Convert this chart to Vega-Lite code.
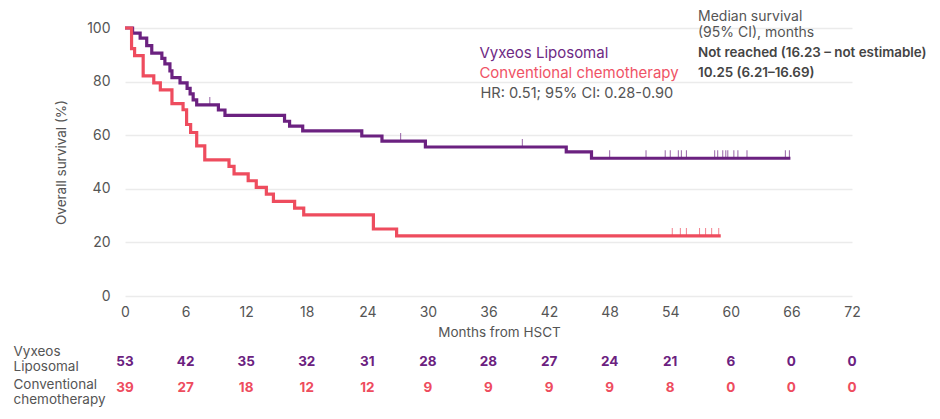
{
  "$schema": "https://vega.github.io/schema/vega-lite/v6.json",
  "background": "white",
  "padding": {"left": 13, "top": 9, "right": 5, "bottom": 5},
  "config": {
    "font": "Inter",
    "view": {"stroke": null},
    "axis": {"labelFont": "Inter", "titleFont": "Inter", "labelColor": "#555555", "titleColor": "#555555", "titleFontWeight": "normal", "domain": false, "ticks": false, "tickSize": 0}
  },
  "datasets": {
    "km": [
      {"group": "Vyxeos Liposomal", "month": 0, "survival": 100, "censored": false},
      {"group": "Vyxeos Liposomal", "month": 0.75, "survival": 98.1, "censored": false},
      {"group": "Vyxeos Liposomal", "month": 1.5, "survival": 96.2, "censored": false},
      {"group": "Vyxeos Liposomal", "month": 2.15, "survival": 93.4, "censored": false},
      {"group": "Vyxeos Liposomal", "month": 2.65, "survival": 90.6, "censored": false},
      {"group": "Vyxeos Liposomal", "month": 3.65, "survival": 88.7, "censored": false},
      {"group": "Vyxeos Liposomal", "month": 3.95, "survival": 86.6, "censored": false},
      {"group": "Vyxeos Liposomal", "month": 4.45, "survival": 84.0, "censored": false},
      {"group": "Vyxeos Liposomal", "month": 4.65, "survival": 81.5, "censored": false},
      {"group": "Vyxeos Liposomal", "month": 5.45, "survival": 79.5, "censored": false},
      {"group": "Vyxeos Liposomal", "month": 6.15, "survival": 77.5, "censored": false},
      {"group": "Vyxeos Liposomal", "month": 6.45, "survival": 75.4, "censored": false},
      {"group": "Vyxeos Liposomal", "month": 6.75, "survival": 73.2, "censored": false},
      {"group": "Vyxeos Liposomal", "month": 7.1, "survival": 71.3, "censored": false},
      {"group": "Vyxeos Liposomal", "month": 8.4, "survival": 71.3, "censored": true},
      {"group": "Vyxeos Liposomal", "month": 9.25, "survival": 69.4, "censored": false},
      {"group": "Vyxeos Liposomal", "month": 9.9, "survival": 67.4, "censored": false},
      {"group": "Vyxeos Liposomal", "month": 15.8, "survival": 65.2, "censored": false},
      {"group": "Vyxeos Liposomal", "month": 16.3, "survival": 63.4, "censored": false},
      {"group": "Vyxeos Liposomal", "month": 17.6, "survival": 61.6, "censored": false},
      {"group": "Vyxeos Liposomal", "month": 23.45, "survival": 59.7, "censored": false},
      {"group": "Vyxeos Liposomal", "month": 25.45, "survival": 57.8, "censored": false},
      {"group": "Vyxeos Liposomal", "month": 27.3, "survival": 57.8, "censored": true},
      {"group": "Vyxeos Liposomal", "month": 29.75, "survival": 55.6, "censored": false},
      {"group": "Vyxeos Liposomal", "month": 39.35, "survival": 55.6, "censored": true},
      {"group": "Vyxeos Liposomal", "month": 43.7, "survival": 53.8, "censored": false},
      {"group": "Vyxeos Liposomal", "month": 46.2, "survival": 51.4, "censored": false},
      {"group": "Vyxeos Liposomal", "month": 48.0, "survival": 51.4, "censored": true},
      {"group": "Vyxeos Liposomal", "month": 51.6, "survival": 51.4, "censored": true},
      {"group": "Vyxeos Liposomal", "month": 53.5, "survival": 51.4, "censored": true},
      {"group": "Vyxeos Liposomal", "month": 54.0, "survival": 51.4, "censored": true},
      {"group": "Vyxeos Liposomal", "month": 54.8, "survival": 51.4, "censored": true},
      {"group": "Vyxeos Liposomal", "month": 55.1, "survival": 51.4, "censored": true},
      {"group": "Vyxeos Liposomal", "month": 55.6, "survival": 51.4, "censored": true},
      {"group": "Vyxeos Liposomal", "month": 58.4, "survival": 51.4, "censored": true},
      {"group": "Vyxeos Liposomal", "month": 58.7, "survival": 51.4, "censored": true},
      {"group": "Vyxeos Liposomal", "month": 59.2, "survival": 51.4, "censored": true},
      {"group": "Vyxeos Liposomal", "month": 59.5, "survival": 51.4, "censored": true},
      {"group": "Vyxeos Liposomal", "month": 59.7, "survival": 51.4, "censored": true},
      {"group": "Vyxeos Liposomal", "month": 60.3, "survival": 51.4, "censored": true},
      {"group": "Vyxeos Liposomal", "month": 60.7, "survival": 51.4, "censored": true},
      {"group": "Vyxeos Liposomal", "month": 61.6, "survival": 51.4, "censored": true},
      {"group": "Vyxeos Liposomal", "month": 65.4, "survival": 51.4, "censored": true},
      {"group": "Vyxeos Liposomal", "month": 65.8, "survival": 51.4, "censored": true},
      {"group": "Vyxeos Liposomal", "month": 65.9, "survival": 51.4, "censored": false},
      {"group": "Conventional chemotherapy", "month": 0, "survival": 100, "censored": false},
      {"group": "Conventional chemotherapy", "month": 0.65, "survival": 92.3, "censored": false},
      {"group": "Conventional chemotherapy", "month": 0.95, "survival": 89.7, "censored": false},
      {"group": "Conventional chemotherapy", "month": 1.8, "survival": 82.1, "censored": false},
      {"group": "Conventional chemotherapy", "month": 2.85, "survival": 79.5, "censored": false},
      {"group": "Conventional chemotherapy", "month": 3.5, "survival": 76.9, "censored": false},
      {"group": "Conventional chemotherapy", "month": 4.65, "survival": 71.8, "censored": false},
      {"group": "Conventional chemotherapy", "month": 5.75, "survival": 69.5, "censored": false},
      {"group": "Conventional chemotherapy", "month": 6.1, "survival": 64.0, "censored": false},
      {"group": "Conventional chemotherapy", "month": 6.5, "survival": 61.0, "censored": false},
      {"group": "Conventional chemotherapy", "month": 7.1, "survival": 56.0, "censored": false},
      {"group": "Conventional chemotherapy", "month": 7.9, "survival": 50.8, "censored": false},
      {"group": "Conventional chemotherapy", "month": 10.3, "survival": 48.4, "censored": false},
      {"group": "Conventional chemotherapy", "month": 10.8, "survival": 45.6, "censored": false},
      {"group": "Conventional chemotherapy", "month": 12.2, "survival": 43.0, "censored": false},
      {"group": "Conventional chemotherapy", "month": 13.0, "survival": 40.5, "censored": false},
      {"group": "Conventional chemotherapy", "month": 14.0, "survival": 38.0, "censored": false},
      {"group": "Conventional chemotherapy", "month": 14.7, "survival": 35.3, "censored": false},
      {"group": "Conventional chemotherapy", "month": 16.8, "survival": 32.8, "censored": false},
      {"group": "Conventional chemotherapy", "month": 17.7, "survival": 30.3, "censored": false},
      {"group": "Conventional chemotherapy", "month": 24.6, "survival": 25.0, "censored": false},
      {"group": "Conventional chemotherapy", "month": 26.9, "survival": 22.4, "censored": false},
      {"group": "Conventional chemotherapy", "month": 54.2, "survival": 22.4, "censored": true},
      {"group": "Conventional chemotherapy", "month": 55.0, "survival": 22.4, "censored": true},
      {"group": "Conventional chemotherapy", "month": 55.6, "survival": 22.4, "censored": true},
      {"group": "Conventional chemotherapy", "month": 56.9, "survival": 22.4, "censored": true},
      {"group": "Conventional chemotherapy", "month": 57.5, "survival": 22.4, "censored": true},
      {"group": "Conventional chemotherapy", "month": 58.1, "survival": 22.4, "censored": true},
      {"group": "Conventional chemotherapy", "month": 58.8, "survival": 22.4, "censored": true},
      {"group": "Conventional chemotherapy", "month": 59.0, "survival": 22.4, "censored": false}
    ],
    "risk": [
      {"group": "Vyxeos Liposomal", "month": 0, "n": 53},
      {"group": "Vyxeos Liposomal", "month": 6, "n": 42},
      {"group": "Vyxeos Liposomal", "month": 12, "n": 35},
      {"group": "Vyxeos Liposomal", "month": 18, "n": 32},
      {"group": "Vyxeos Liposomal", "month": 24, "n": 31},
      {"group": "Vyxeos Liposomal", "month": 30, "n": 28},
      {"group": "Vyxeos Liposomal", "month": 36, "n": 28},
      {"group": "Vyxeos Liposomal", "month": 42, "n": 27},
      {"group": "Vyxeos Liposomal", "month": 48, "n": 24},
      {"group": "Vyxeos Liposomal", "month": 54, "n": 21},
      {"group": "Vyxeos Liposomal", "month": 60, "n": 6},
      {"group": "Vyxeos Liposomal", "month": 66, "n": 0},
      {"group": "Vyxeos Liposomal", "month": 72, "n": 0},
      {"group": "Conventional chemotherapy", "month": 0, "n": 39},
      {"group": "Conventional chemotherapy", "month": 6, "n": 27},
      {"group": "Conventional chemotherapy", "month": 12, "n": 18},
      {"group": "Conventional chemotherapy", "month": 18, "n": 12},
      {"group": "Conventional chemotherapy", "month": 24, "n": 12},
      {"group": "Conventional chemotherapy", "month": 30, "n": 9},
      {"group": "Conventional chemotherapy", "month": 36, "n": 9},
      {"group": "Conventional chemotherapy", "month": 42, "n": 9},
      {"group": "Conventional chemotherapy", "month": 48, "n": 9},
      {"group": "Conventional chemotherapy", "month": 54, "n": 8},
      {"group": "Conventional chemotherapy", "month": 60, "n": 0},
      {"group": "Conventional chemotherapy", "month": 66, "n": 0},
      {"group": "Conventional chemotherapy", "month": 72, "n": 0}
    ]
  },
  "bounds": "flush",
  "spacing": 53,
  "vconcat": [
    {
      "width": 727,
      "height": 268,
      "layer": [
        {
          "data": {"name": "km"},
          "mark": {"type": "line", "interpolate": "step-after", "strokeWidth": 3.2},
          "encoding": {
            "x": {"field": "month", "type": "quantitative", "scale": {"domain": [0, 72], "nice": false},
              "axis": {"values": [0, 6, 12, 18, 24, 30, 36, 42, 48, 54, 60, 66, 72], "title": "Months from HSCT", "grid": false, "labelFlush": false, "labelPadding": 9, "labelFontSize": 14, "titleFontSize": 13.5, "titlePadding": 6, "titleX": 374}},
            "y": {"field": "survival", "type": "quantitative", "scale": {"domain": [0, 100], "nice": false},
              "axis": {"values": [0, 20, 40, 60, 80, 100], "title": "Overall survival (%)", "grid": true, "gridColor": "#ebebeb", "gridWidth": 1.5, "labelPadding": 15, "labelFontSize": 14, "titleFontSize": 13.5, "titlePadding": 18}},
            "color": {"field": "group", "type": "nominal", "scale": {"domain": ["Vyxeos Liposomal", "Conventional chemotherapy"], "range": ["#6b2180", "#ee4c5e"]}, "legend": null}
          }
        },
        {
          "data": {"name": "km"},
          "transform": [{"filter": "datum.censored"}],
          "mark": {"type": "tick", "orient": "vertical", "size": 8, "thickness": 1, "yOffset": -4},
          "encoding": {
            "x": {"field": "month", "type": "quantitative"},
            "y": {"field": "survival", "type": "quantitative"},
            "color": {"field": "group", "type": "nominal", "legend": null}
          }
        },
        {
          "data": {"values": [{"label": "Vyxeos Liposomal"}]},
          "mark": {"type": "text", "align": "left", "baseline": "middle", "fontSize": 15, "color": "#6e2a84"},
          "encoding": {"x": {"datum": 35.1}, "y": {"datum": 90.7}, "text": {"field": "label"}}
        },
        {
          "data": {"values": [{"label": "Conventional chemotherapy"}]},
          "mark": {"type": "text", "align": "left", "baseline": "middle", "fontSize": 15, "color": "#ef5366"},
          "encoding": {"x": {"datum": 35.1}, "y": {"datum": 83.3}, "text": {"field": "label"}}
        },
        {
          "data": {"values": [{"label": "HR: 0.51; 95% CI: 0.28-0.90"}]},
          "mark": {"type": "text", "align": "left", "baseline": "middle", "fontSize": 14.6, "color": "#555555"},
          "encoding": {"x": {"datum": 35.2}, "y": {"datum": 75.4}, "text": {"field": "label"}}
        },
        {
          "data": {"values": [{"label": "Median survival"}]},
          "mark": {"type": "text", "align": "left", "baseline": "middle", "fontSize": 14, "color": "#555555"},
          "encoding": {"x": {"datum": 56.75}, "y": {"datum": 104.2}, "text": {"field": "label"}}
        },
        {
          "data": {"values": [{"label": "(95% CI), months"}]},
          "mark": {"type": "text", "align": "left", "baseline": "middle", "fontSize": 14, "color": "#555555"},
          "encoding": {"x": {"datum": 56.75}, "y": {"datum": 98.2}, "text": {"field": "label"}}
        },
        {
          "data": {"values": [{"label": "Not reached (16.23 – not estimable)"}]},
          "mark": {"type": "text", "align": "left", "baseline": "middle", "fontSize": 13.4, "fontWeight": 600, "color": "#444444"},
          "encoding": {"x": {"datum": 56.75}, "y": {"datum": 90.6}, "text": {"field": "label"}}
        },
        {
          "data": {"values": [{"label": "10.25 (6.21–16.69)"}]},
          "mark": {"type": "text", "align": "left", "baseline": "middle", "fontSize": 13.4, "fontWeight": 600, "color": "#444444"},
          "encoding": {"x": {"datum": 56.75}, "y": {"datum": 83.3}, "text": {"field": "label"}}
        }
      ]
    },
    {
      "width": 727,
      "height": 52,
      "data": {"name": "risk"},
      "mark": {"type": "text", "fontWeight": "bold", "fontSize": 13.5, "baseline": "middle"},
      "encoding": {
        "x": {"field": "month", "type": "quantitative", "scale": {"domain": [0, 72], "nice": false}, "axis": null},
        "y": {"field": "group", "type": "nominal", "sort": ["Vyxeos Liposomal", "Conventional chemotherapy"], "scale": {"type": "point", "padding": 0.5},
          "axis": {"title": null, "grid": false, "labelAlign": "left", "labelBaseline": "middle", "labelPadding": 112, "labelFontSize": 13.5, "labelLineHeight": 15, "labelColor": "#555555",
            "labelOffset": {"condition": {"test": "datum.value == 'Vyxeos Liposomal'", "value": -11}, "value": -4},
            "labelExpr": "datum.label == 'Vyxeos Liposomal' ? ['Vyxeos', 'Liposomal'] : ['Conventional', 'chemotherapy']"}},
        "text": {"field": "n", "type": "quantitative"},
        "color": {"field": "group", "type": "nominal", "scale": {"domain": ["Vyxeos Liposomal", "Conventional chemotherapy"], "range": ["#6b2180", "#ee4c5e"]}, "legend": null}
      }
    }
  ]
}
